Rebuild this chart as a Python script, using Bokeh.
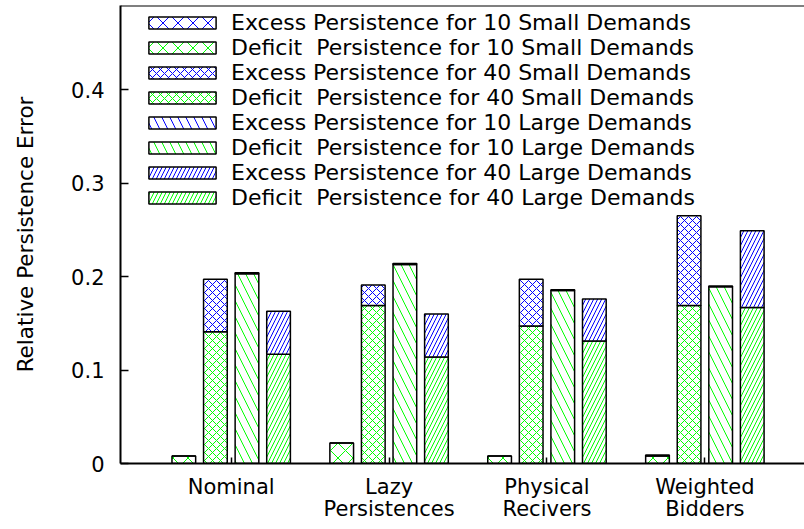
from bokeh.plotting import figure
from bokeh.models import FixedTicker, Legend, LegendItem, Span, Range1d
from bokeh.embed import file_html
from bokeh.resources import INLINE

# ---------------- data ----------------
groups = ["Nominal", "Lazy\nPersistences", "Physical\nRecivers", "Weighted\nBidders"]
y_ticks = [0, 0.1, 0.2, 0.3, 0.4]
y_tick_labels = ["0", "0.1", "0.2", "0.3", "0.4"]

series = ["10 Small Demands", "40 Small Demands", "10 Large Demands", "40 Large Demands"]

deficit_10_small = [0.008, 0.022, 0.008, 0.008]
excess_10_small = [0.000, 0.000, 0.000, 0.001]
deficit_40_small = [0.141, 0.169, 0.147, 0.169]
excess_40_small = [0.056, 0.022, 0.050, 0.096]
deficit_10_large = [0.203, 0.213, 0.185, 0.189]
excess_10_large = [0.001, 0.001, 0.001, 0.001]
deficit_40_large = [0.117, 0.114, 0.131, 0.167]
excess_40_large = [0.046, 0.046, 0.045, 0.082]

deficits = [deficit_10_small, deficit_40_small, deficit_10_large, deficit_40_large]
excesses = [excess_10_small, excess_40_small, excess_10_large, excess_40_large]

# ---------------- style ----------------
FONT = "DejaVu Sans"
BLUE = "#0000ff"
GREEN = "#00ff00"
patterns = [("x", 15), ("x", 8), ("\\", 16), ("/", 8)]
offsets = [-0.3, -0.1, 0.1, 0.3]
BAR_W = 0.15
Y_END = 0.49

p = figure(width=804, height=529, output_backend="svg", toolbar_location=None,
           x_range=Range1d(-0.701, 3.631), y_range=Range1d(0, Y_END),
           min_border_left=120, min_border_right=0, min_border_top=5, min_border_bottom=66)
p.outline_line_color = None
p.grid.visible = False
p.background_fill_color = "white"

items = []
for i, name in enumerate(series):
    xs = [g + offsets[i] for g in range(len(groups))]
    top_def = deficits[i]
    top_exc = [d + e for d, e in zip(deficits[i], excesses[i])]
    pat, sc = patterns[i]
    r_def = p.vbar(x=xs, width=BAR_W, bottom=0, top=top_def, fill_color="white",
                   line_color="black", line_width=1.5, hatch_pattern=pat, hatch_scale=sc,
                   hatch_color=GREEN, hatch_weight=1)
    r_exc = p.vbar(x=xs, width=BAR_W, bottom=top_def, top=top_exc, fill_color="white",
                   line_color="black", line_width=1.5, hatch_pattern=pat, hatch_scale=sc,
                   hatch_color=BLUE, hatch_weight=1)
    items.append(LegendItem(label="Excess Persistence for " + name, renderers=[r_exc]))
    items.append(LegendItem(label="Deficit  Persistence for " + name, renderers=[r_def]))

legend = Legend(items=items, location=(20, 253), padding=0, margin=0, spacing=0,
                glyph_width=84, glyph_height=15, label_standoff=7,
                label_text_font=FONT, label_text_font_size="22px", label_text_color="black",
                background_fill_alpha=0, border_line_color=None)
p.add_layout(legend)

# top frame line
p.add_layout(Span(location=Y_END, dimension="width", line_color="black", line_width=2))

# axes
for ax in (p.xaxis, p.yaxis):
    ax.axis_line_color = "black"
    ax.axis_line_width = 2
    ax.major_tick_line_color = "black"
    ax.major_tick_line_width = 1.5
    ax.major_tick_out = 0
    ax.minor_tick_line_color = None
    ax.major_label_text_font = FONT
    ax.major_label_text_font_size = "21px"
    ax.major_label_text_color = "black"

p.xaxis.ticker = FixedTicker(ticks=list(range(len(groups))))
p.xaxis.major_label_overrides = {i: g for i, g in enumerate(groups)}
p.xaxis.major_tick_in = 6
p.xaxis.major_label_standoff = 11
p.xaxis.major_label_text_line_height = 0.95

p.yaxis.ticker = FixedTicker(ticks=y_ticks)
p.yaxis.major_label_overrides = dict(zip(y_ticks, y_tick_labels))
p.yaxis.major_tick_in = 8
p.yaxis.major_label_standoff = 16
p.yaxis.axis_label = "Relative Persistence Error"
p.yaxis.axis_label_text_font = FONT
p.yaxis.axis_label_text_font_size = "21.5px"
p.yaxis.axis_label_text_font_style = "normal"
p.yaxis.axis_label_text_color = "black"
p.yaxis.axis_label_standoff = 30

open("out.html", "w").write(file_html(p, INLINE))
